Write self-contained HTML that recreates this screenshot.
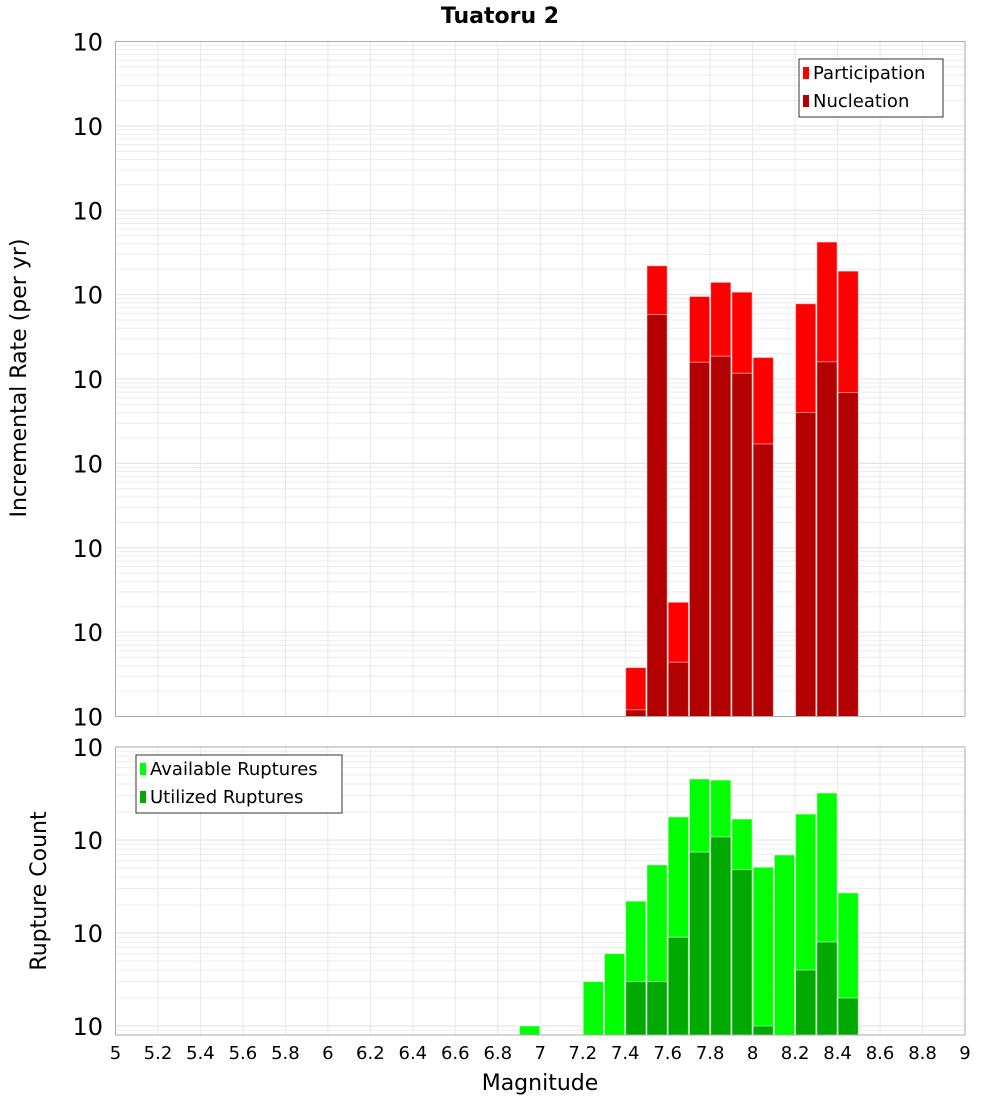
<!DOCTYPE html>
<html><head><meta charset="utf-8"><style>
body{margin:0;background:#fff;}
svg text{font-family:"DejaVu Sans","Liberation Sans",sans-serif;}
</style></head><body>
<svg id="chart" width="1000" height="1100" xmlns="http://www.w3.org/2000/svg">
<text x="500" y="23" text-anchor="middle" font-size="22" font-weight="bold">Tuatoru 2</text>
<g id="top"></g>
<g id="bot"></g>
<text x="540" y="1090" text-anchor="middle" font-size="22">Magnitude</text>
<text transform="translate(26,378) rotate(-90)" text-anchor="middle" font-size="22">Incremental Rate (per yr)</text>
<text transform="translate(46,891) rotate(-90)" text-anchor="middle" font-size="22">Rupture Count</text>
</svg>
<script>
const rateMags = [7.4, 7.5, 7.6, 7.7, 7.8, 7.9, 8.0, 8.2, 8.3, 8.4];
const participation = [3.8e-10, 2.2e-5, 2.26e-9, 9.5e-6, 1.4e-5, 1.07e-5, 1.8e-6, 7.8e-6, 4.2e-5, 1.9e-5];
const nucleation = [1.2e-10, 5.8e-6, 4.4e-10, 1.58e-6, 1.86e-6, 1.17e-6, 1.7e-7, 4.0e-7, 1.6e-6, 6.9e-7];
const countMags = [6.9, 7.2, 7.3, 7.4, 7.5, 7.6, 7.7, 7.8, 7.9, 8.0, 8.1, 8.2, 8.3, 8.4];
const available = [1, 3, 6, 22, 54, 177, 453, 441, 168, 51, 69, 190, 320, 27];
const utilized = [0, 0, 0, 3, 3, 9, 74, 108, 48, 1, 0, 4, 8, 2];
const xTicks = [5,5.2,5.4,5.6,5.8,6,6.2,6.4,6.6,6.8,7,7.2,7.4,7.6,7.8,8,8.2,8.4,8.6,8.8,9];
const xTickLabels = ["5","5.2","5.4","5.6","5.8","6","6.2","6.4","6.6","6.8","7","7.2","7.4","7.6","7.8","8","8.2","8.4","8.6","8.8","9"];
const topExps = [-10,-9,-8,-7,-6,-5,-4,-3,-2];
const botExps = [0,1,2,3];

const NS="http://www.w3.org/2000/svg";
const L=115.5,R=965;
const X=m=>L+(m-5)/(4)*(R-L);
function mk(parent,tag,attrs){const e=document.createElementNS(NS,tag);for(const k in attrs)e.setAttribute(k,attrs[k]);parent.appendChild(e);return e;}
function panel(g,top,bot,lmin,lmax,exps,mags,s1,s2,c1,c2,names,legend){
  const Y=v=>{const l=Math.log10(v);return bot-(l-lmin)/(lmax-lmin)*(bot-top);};
  // grid
  for(let d=Math.floor(lmin);d<lmax;d++){for(let k=1;k<10;k++){const l=d+Math.log10(k);if(l<lmin||l>lmax)continue;const y=bot-(l-lmin)/(lmax-lmin)*(bot-top);
    const ln=mk(g,'line',{x1:L,x2:R,y1:y,y2:y,stroke:k==1?'#e0e0e0':'#ececec','stroke-width':1});
    }}
  xTicks.forEach(t=>{const ln=mk(g,'line',{x1:X(t),x2:X(t),y1:top,y2:bot,stroke:'#e8e8e8','stroke-width':1});
    });
  const w=X(5.1)-X(5);
  mags.forEach((m,i)=>{
    [[s1[i],c1,names[0]],[s2[i],c2,names[1]]].forEach(([v,c,n])=>{if(!(v>0))return;
      const y=Math.max(top,Y(v));
      const r=mk(g,'rect',{x:X(m)+0.5,y:y,width:w-1,height:bot-y,fill:c,stroke:'rgba(255,255,255,0.5)','stroke-width':1});
      });
  });
  const fr=mk(g,'rect',{x:L,y:top,width:R-L,height:bot-top,fill:'none',stroke:'#aaa','stroke-width':1});
  
  exps.forEach(e=>{const y=Y(Math.pow(10,e));
    const t=mk(g,'text',{x:103,y:y+9,'text-anchor':'end','font-size':24});
    
    t.textContent='10';
    const s=mk(g,'tspan',{dy:-13,'font-size':16});s.textContent=String(e);
  });
  // legend
  const lg=mk(g,'g',{});
  mk(lg,'rect',{x:legend.x,y:legend.y,width:legend.w,height:58,fill:'#fff',stroke:'#333','stroke-width':1});
  [[c1,legend.t[0]],[c2,legend.t[1]]].forEach(([c,tx],j)=>{
    const e=mk(lg,'g',{});
    mk(e,'rect',{x:legend.x+4,y:legend.y+8+j*28,width:6,height:12,fill:c});
    const t=mk(e,'text',{x:legend.x+14,y:legend.y+20+j*28,'font-size':18});t.textContent=tx;});
}
panel(document.getElementById('top'),41.5,716.5,-10,-2,topExps,rateMags,participation,nucleation,'#ff0000','#b30000',['bar-participation','bar-nucleation'],{x:799,y:59,w:144,t:['Participation','Nucleation']});
panel(document.getElementById('bot'),747,1035,-0.097,3,botExps,countMags,available,utilized,'#00ff00','#00aa00',['bar-available','bar-utilized'],{x:136,y:755,w:206,t:['Available Ruptures','Utilized Ruptures']});
const ax=document.getElementById('chart');
xTicks.forEach((t,i)=>{const e=mk(ax,'text',{x:X(t),y:1059,'text-anchor':'middle','font-size':18});
  e.textContent=xTickLabels[i];});
</script>
</body></html>
